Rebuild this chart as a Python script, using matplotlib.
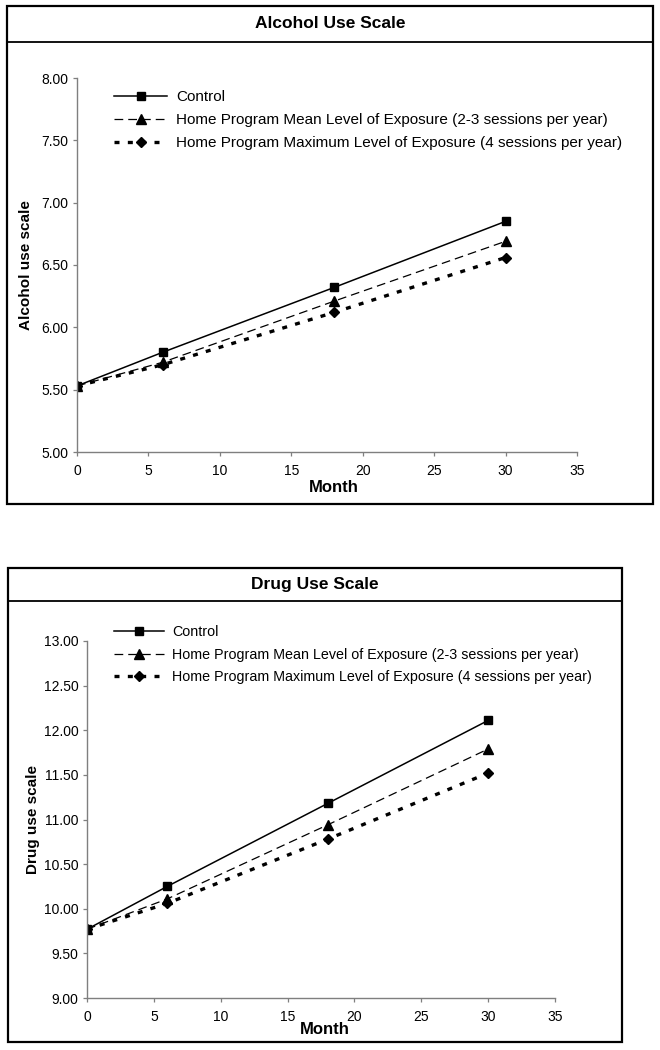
import matplotlib
matplotlib.use('Agg')
import matplotlib.pyplot as plt
from matplotlib.patches import Rectangle
from matplotlib.lines import Line2D

plt.rcParams['font.family'] = ['Liberation Sans', 'DejaVu Sans']

# data
months = [0, 6, 18, 30]
labels = ['Control',
          'Home Program Mean Level of Exposure (2-3 sessions per year)',
          'Home Program Maximum Level of Exposure (4 sessions per year)']

alcohol_control = [5.53, 5.80, 6.32, 6.85]
alcohol_mean = [5.53, 5.72, 6.21, 6.69]
alcohol_max = [5.53, 5.70, 6.12, 6.56]

drug_control = [9.77, 10.25, 11.18, 12.11]
drug_mean = [9.77, 10.11, 10.94, 11.79]
drug_max = [9.77, 10.06, 10.78, 11.52]

alcohol_yticks = [5.0, 5.5, 6.0, 6.5, 7.0, 7.5, 8.0]
drug_yticks = [9.0, 9.5, 10.0, 10.5, 11.0, 11.5, 12.0, 12.5, 13.0]
xticks = [0, 5, 10, 15, 20, 25, 30, 35]

W, H = 660, 1050
fig = plt.figure(figsize=(W / 100, H / 100), dpi=100)


def fx(px):
    return px / W


def fy(py):
    return 1 - py / H


def panel(box, title_y, divider_y, title, ax_rect, yticks, series, ylabel,
          ylabel_x, month_xy, legend_xy, legend_fs):
    x0, y0, x1, y1 = box
    # chart frame + title strip (Excel style)
    fig.add_artist(Rectangle((fx(x0), fy(y1)), fx(x1 - x0), (y1 - y0) / H,
                             transform=fig.transFigure, fill=False,
                             edgecolor='black', lw=1.6))
    fig.add_artist(Line2D([fx(x0), fx(x1)], [fy(divider_y)] * 2,
                          transform=fig.transFigure, color='black', lw=1.3))
    fig.text(fx((x0 + x1) / 2), fy(title_y), title, ha='center', va='center',
             fontsize=12.5, fontweight='bold')

    ax = fig.add_axes(ax_rect)
    c, m, mx = series
    ax.plot(months, c, color='black', lw=1.1, marker='s', ms=5.5,
            label=labels[0])
    ax.plot(months, m, color='black', lw=0.9, ls=(0, (7, 4)), marker='^',
            ms=6.5, label=labels[1])
    ax.plot(months, mx, color='black', lw=2.4, ls=(0, (1.5, 2.5)),
            marker='D', ms=5.5, label=labels[2])

    ax.set_xlim(0, 35)
    ax.set_ylim(yticks[0], yticks[-1])
    ax.set_xticks(xticks)
    ax.set_yticks(yticks)
    ax.set_yticklabels(['%.2f' % v for v in yticks])
    for s in ['top', 'right']:
        ax.spines[s].set_visible(False)
    for s in ['left', 'bottom']:
        ax.spines[s].set_color('#7f7f7f')
        ax.spines[s].set_linewidth(1.0)
    ax.tick_params(axis='both', colors='#7f7f7f', labelcolor='black',
                   labelsize=10, length=3, width=0.9)
    ax.tick_params(axis='x', pad=5.5)
    ax.tick_params(axis='y', pad=3)

    ax.set_ylabel(ylabel, fontsize=11, fontweight='bold')
    ax.yaxis.set_label_coords(fx(ylabel_x), ax_rect[1] + ax_rect[3] / 2,
                              transform=fig.transFigure)
    ax.set_xlabel('Month', fontsize=12, fontweight='bold')
    ax.xaxis.set_label_coords(fx(month_xy[0]), fy(month_xy[1]),
                              transform=fig.transFigure)
    ax.xaxis.label.set_va('center')
    ax.yaxis.label.set_va('center')

    ax.legend(loc='upper left', bbox_to_anchor=(fx(legend_xy[0]), fy(legend_xy[1])),
              bbox_transform=fig.transFigure, frameon=False, fontsize=legend_fs,
              handlelength=3.5, handletextpad=0.55, labelspacing=0.6,
              borderpad=0, borderaxespad=0)
    return ax


panel((7, 6, 653, 504), 24, 42, 'Alcohol Use Scale',
      [fx(77), fy(452), fx(577 - 77), (452 - 78) / H],
      alcohol_yticks, (alcohol_control, alcohol_mean, alcohol_max),
      'Alcohol use scale', 26, (334, 488), (114, 90), 11)

panel((8, 568, 622, 1042), 584, 601, 'Drug Use Scale',
      [fx(87), fy(998), fx(555 - 87), (998 - 641) / H],
      drug_yticks, (drug_control, drug_mean, drug_max),
      'Drug use scale', 33, (325, 1029), (114, 625), 10.3)

fig.savefig('out.png', dpi=100)
